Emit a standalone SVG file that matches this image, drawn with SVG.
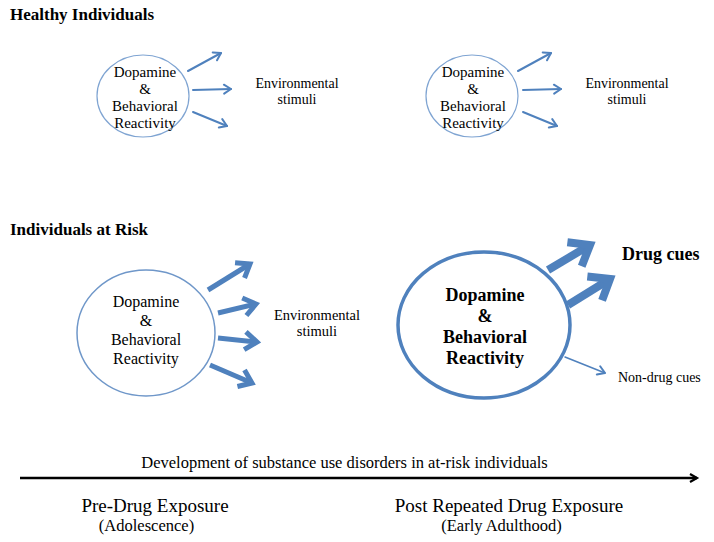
<svg xmlns="http://www.w3.org/2000/svg" width="714" height="542" viewBox="0 0 714 542" font-family="'Liberation Serif','Times New Roman',serif">
<style>
text{font-family:"Liberation Serif","Times New Roman",serif;fill:#000}
.h{font-weight:bold;font-size:17px}
.t1{font-size:15px;text-anchor:middle}
.e{font-size:14px;text-anchor:middle}
.t2{font-size:16px;text-anchor:middle}
.t3{font-size:18px;font-weight:bold;text-anchor:middle}
.b{text-anchor:middle}
.a1{stroke:#4F81BD;stroke-width:2;fill:none;stroke-linecap:round;marker-end:url(#m1)}
.a2{stroke:#4F81BD;stroke-width:5;fill:none;stroke-linecap:butt;marker-end:url(#m2)}
.a3{stroke:#4F81BD;stroke-width:8;fill:none;stroke-linecap:butt;marker-end:url(#m3)}
</style>
<defs>
<marker id="m1" markerUnits="userSpaceOnUse" viewBox="-12 -8 14 16" refX="0" refY="0" markerWidth="14" markerHeight="16" orient="auto" overflow="visible">
<path d="M-7,-4.5 L0,0 L-7,4.5" fill="none" stroke="#4F81BD" stroke-width="2" stroke-linecap="round" stroke-linejoin="round"/>
</marker>
<marker id="m2" markerUnits="userSpaceOnUse" viewBox="-20 -15 25 30" refX="0" refY="0" markerWidth="25" markerHeight="30" orient="auto" overflow="visible">
<path d="M-12,-9 L0,0 L-12,9" fill="none" stroke="#4F81BD" stroke-width="5" stroke-linejoin="miter"/>
</marker>
<marker id="m3" markerUnits="userSpaceOnUse" viewBox="-30 -20 35 40" refX="0" refY="0" markerWidth="35" markerHeight="40" orient="auto" overflow="visible">
<path d="M-18,-14 L0,0 L-18,14" fill="none" stroke="#4F81BD" stroke-width="8" stroke-linejoin="miter"/>
</marker>
<marker id="mk" markerUnits="userSpaceOnUse" viewBox="-10 -6 12 12" refX="0" refY="0" markerWidth="12" markerHeight="12" orient="auto" overflow="visible">
<path d="M-7,-4 L0,0 L-7,4" fill="none" stroke="#000" stroke-width="2.2"/>
</marker>
</defs>

<text class="h" x="10" y="20">Healthy Individuals</text>
<text class="h" x="10" y="235">Individuals at Risk</text>

<g id="node-healthy-pre">
<ellipse cx="143" cy="96" rx="46" ry="41" fill="#fff" stroke="#7FA4D2" stroke-width="1.2"/>
<text class="t1" x="145" y="77">Dopamine</text>
<text class="t1" x="145" y="94">&amp;</text>
<text class="t1" x="145" y="111">Behavioral</text>
<text class="t1" x="145" y="128">Reactivity</text>
</g>
<g id="node-healthy-pre-env">
<text class="e" x="297" y="88">Environmental</text>
<text class="e" x="297" y="104">stimuli</text>
</g>

<g id="node-healthy-post">
<ellipse cx="472" cy="96" rx="46" ry="41" fill="#fff" stroke="#7FA4D2" stroke-width="1.2"/>
<text class="t1" x="473" y="77">Dopamine</text>
<text class="t1" x="473" y="94">&amp;</text>
<text class="t1" x="473" y="111">Behavioral</text>
<text class="t1" x="473" y="128">Reactivity</text>
</g>
<g id="node-healthy-post-env">
<text class="e" x="627" y="88">Environmental</text>
<text class="e" x="627" y="104">stimuli</text>
</g>

<g id="node-risk-pre">
<ellipse cx="146" cy="333" rx="69" ry="63" fill="#fff" stroke="#6F97C9" stroke-width="1.5"/>
<text class="t2" x="146" y="307">Dopamine</text>
<text class="t2" x="146" y="326">&amp;</text>
<text class="t2" x="146" y="345">Behavioral</text>
<text class="t2" x="146" y="364">Reactivity</text>
</g>
<g id="node-risk-pre-env">
<text class="e" x="317" y="320" style="font-size:14.5px">Environmental</text>
<text class="e" x="317" y="336" style="font-size:14.5px">stimuli</text>
</g>

<g id="node-risk-post">
<ellipse cx="484" cy="325" rx="86" ry="73" fill="#fff" stroke="#4F81BD" stroke-width="3.5"/>
<text class="t3" x="485" y="301">Dopamine</text>
<text class="t3" x="485" y="322">&amp;</text>
<text class="t3" x="485" y="343">Behavioral</text>
<text class="t3" x="485" y="364">Reactivity</text>
</g>
<g id="node-drug-cues">
<text x="622" y="260" style="font-size:18px;font-weight:bold">Drug cues</text>
</g>
<g id="node-nondrug-cues">
<text x="618" y="382" style="font-size:14px">Non-drug cues</text>
</g>

<g id="connectors">
<path class="a1" d="M188,71 L221,53"/>
<path class="a1" d="M193,90 L231,89"/>
<path class="a1" d="M193,112 L227,126"/>
<path class="a1" d="M518,71 L551,53"/>
<path class="a1" d="M523,90 L561,89"/>
<path class="a1" d="M523,112 L557,126"/>
<path class="a2" d="M208,290 L250,264"/>
<path class="a2" d="M218,313 L256,304"/>
<path class="a2" d="M218,338 L257,342"/>
<path class="a2" d="M210,365 L252,383"/>
<path class="a3" d="M548,270 L590,245"/>
<path class="a3" d="M568,305 L610,279"/>
<path class="a1" style="stroke-width:1.5" d="M565,357 L605,373"/>
<path d="M20,478 L697,478" stroke="#000" stroke-width="2.5" fill="none" marker-end="url(#mk)"/>
</g>

<text class="b" x="344.5" y="468" style="font-size:16.5px">Development of substance use disorders in at-risk individuals</text>
<text class="b" x="155" y="512" style="font-size:19px">Pre-Drug Exposure</text>
<text class="b" x="146.5" y="531" style="font-size:16.5px">(Adolescence)</text>
<text class="b" x="509" y="512" style="font-size:19px">Post Repeated Drug Exposure</text>
<text class="b" x="501.5" y="531" style="font-size:16.5px">(Early Adulthood)</text>
</svg>
